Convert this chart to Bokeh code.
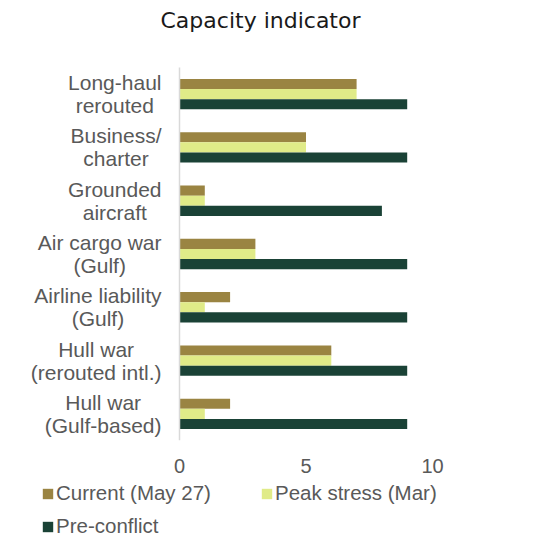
from bokeh.plotting import figure
from bokeh.models import ColumnDataSource, Legend, LegendItem, Range1d, Label
from bokeh.core.properties import value
from bokeh.layouts import column
from bokeh.transform import dodge
from bokeh.embed import file_html
from bokeh.resources import INLINE

categories = [
    "Long-haul\nrerouted",
    "Business/\ncharter",
    "Grounded\naircraft",
    "Air cargo war\n(Gulf)",
    "Airline liability\n(Gulf)",
    "Hull war\n(rerouted intl.)",
    "Hull war\n(Gulf-based)",
]
current = [7, 5, 1, 3, 2, 6, 2]
peak = [7, 5, 1, 3, 1, 6, 1]
pre_conflict = [9, 9, 8, 9, 9, 9, 9]
series_names = ["Current (May 27)", "Peak stress (Mar)", "Pre-conflict"]
x_ticks = [0, 5, 10]
title_text = "Capacity indicator"

colors = ["#9A8442", "#E0EB88", "#1A4236"]
label_color = "#595959"

n = len(categories)
idx = list(range(n))
src = ColumnDataSource(dict(idx=idx, cat=categories, cur=current, peak=peak, pre=pre_conflict))

# layout (pixels within main figure)
W, H = 520, 480
frame_bottom = 440
band_top = 67
x0_px, x10_px = 179, 432
ppu = (x10_px - x0_px) / 10.0
band_px = (frame_bottom - band_top) / n

def xd(px):
    return (px - x0_px) / ppu

def yd(py):
    return -0.5 + (py - band_top) / band_px

p = figure(
    width=W, height=H,
    x_range=Range1d(xd(0), xd(W)),
    y_range=Range1d(yd(frame_bottom), yd(0)),
    output_backend="svg", toolbar_location=None,
    min_border_left=0, min_border_right=0, min_border_top=0, min_border_bottom=H - frame_bottom,
)
bh = 0.19
r1 = p.hbar(y=dodge("idx", -bh, range=p.y_range), right="cur", left=0, height=bh, source=src,
            fill_color=colors[0], line_color=None)
r2 = p.hbar(y=dodge("idx", 0, range=p.y_range), right="peak", left=0, height=bh, source=src,
            fill_color=colors[1], line_color=None)
r3 = p.hbar(y=dodge("idx", bh, range=p.y_range), right="pre", left=0, height=bh, source=src,
            fill_color=colors[2], line_color=None)

# category axis line
p.segment(x0=0, y0=-0.5, x1=0, y1=n - 0.5, line_color="#D9D9D9", line_width=1.5)

# category labels: block right-aligned, lines centred
p.text(x=xd(161), y="idx", text="cat", source=src,
       anchor=value("center_right"), text_align="center", text_baseline="middle",
       text_font=value("Liberation Sans"), text_font_size="21px", text_color=label_color,
       text_line_height=1.0)

# title
p.add_layout(Label(x=xd(260), y=yd(20), text=title_text, text_align="center",
                   text_baseline="alphabetic", text_font="DejaVu Sans", text_font_size="22px",
                   text_color="#1A1A1A"))

p.outline_line_color = None
p.xgrid.grid_line_color = None
p.ygrid.grid_line_color = None
p.yaxis.visible = False

p.xaxis.ticker = x_ticks
p.xaxis.axis_line_color = None
p.xaxis.major_tick_line_color = None
p.xaxis.minor_tick_line_color = None
p.xaxis.major_label_text_font = "Liberation Sans"
p.xaxis.major_label_text_font_size = "20px"
p.xaxis.major_label_text_color = label_color
p.xaxis.major_label_standoff = 12

# legend panel (swatches drawn from the same series, outside the visible range)
LH = 56
lg = figure(width=W, height=LH, output_backend="svg", toolbar_location=None,
            min_border=0, x_range=Range1d(0, 1), y_range=Range1d(100, 101))
lg.axis.visible = False
lg.grid.visible = False
lg.outline_line_color = None
g = [lg.hbar(y="idx", right=f, left=0, height=bh, source=src, fill_color=c, line_color=None)
     for f, c in zip(["cur", "peak", "pre"], colors)]

row_h, gap = 23, 9
legend_h = 2 * row_h + gap
legend_top = 483 - H
legend = Legend(
    items=[LegendItem(label=nm, renderers=[r]) for nm, r in zip(series_names, g)],
    location=(41, LH - legend_top - legend_h), orientation="horizontal", ncols=2,
    glyph_width=13, glyph_height=13, label_standoff=2,
    label_text_font="Liberation Sans", label_text_font_size="20.5px", label_text_color=label_color,
    label_height=row_h, label_width=195, spacing=gap, padding=0, margin=0,
    border_line_color=None, background_fill_alpha=0,
)
lg.add_layout(legend, "center")

layout = column(p, lg, spacing=0)
open("out.html", "w").write(file_html(layout, INLINE))
